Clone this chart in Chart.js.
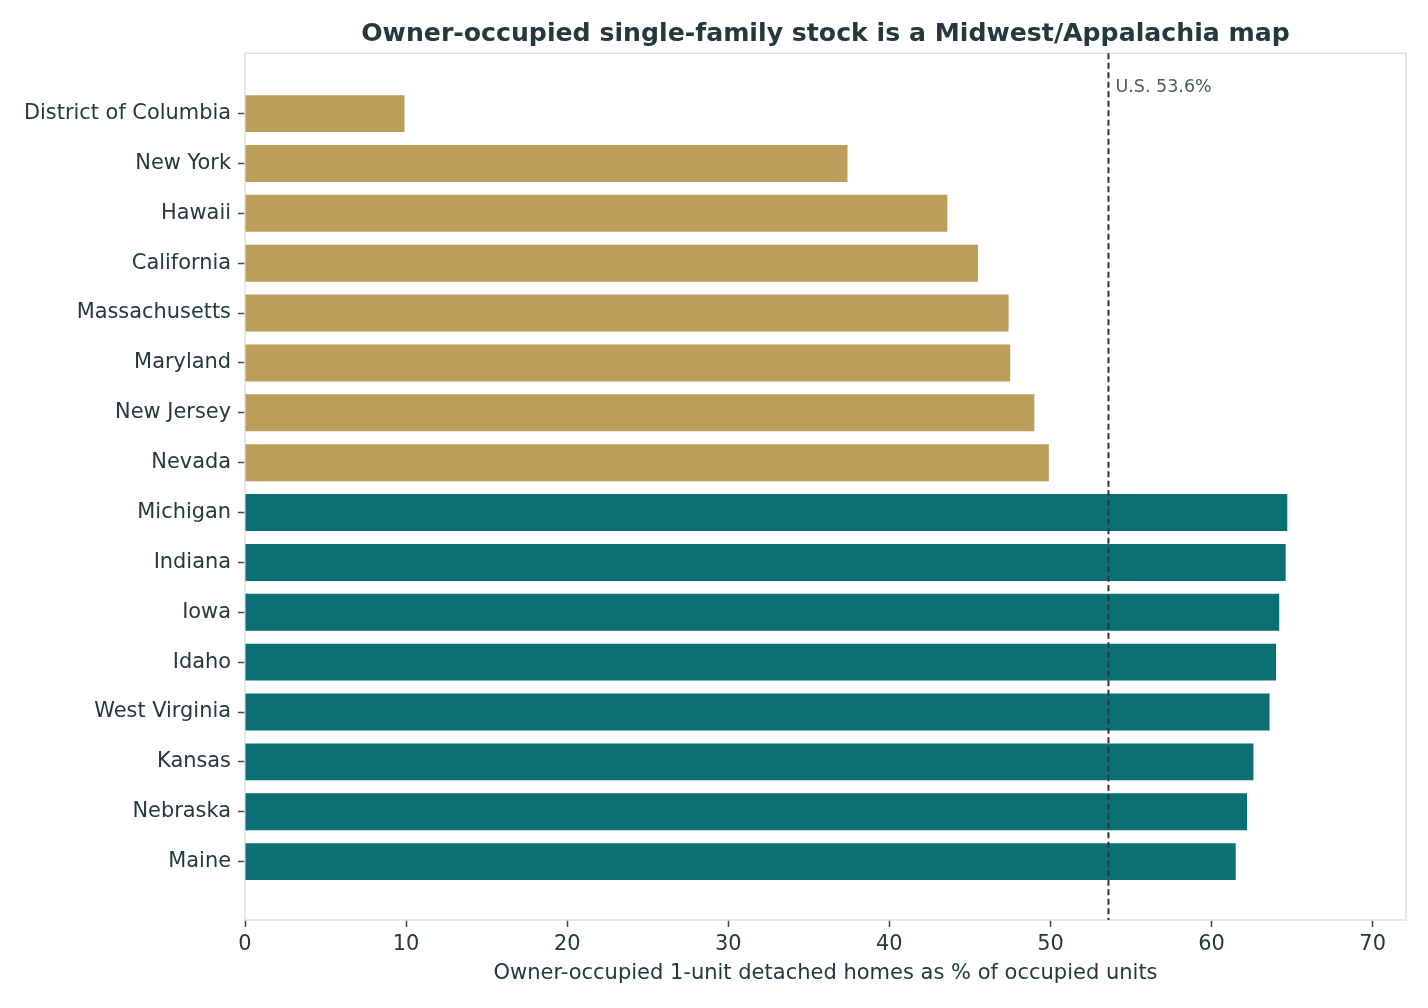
<!DOCTYPE html>
<html>
<head>
<meta charset="utf-8">
<script src="https://cdn.jsdelivr.net/npm/chart.js@4/dist/chart.umd.min.js"></script>
<style>
	html, body { margin: 0; padding: 0; background: #fff; }
	#wrap { width: 1428px; height: 1008px; }
</style>
</head>
<body>
<div id="wrap"><canvas id="chart"></canvas></div>
<script>
const STATES = [
	'District of Columbia', 'New York', 'Hawaii', 'California', 'Massachusetts',
	'Maryland', 'New Jersey', 'Nevada', 'Michigan', 'Indiana', 'Iowa', 'Idaho',
	'West Virginia', 'Kansas', 'Nebraska', 'Maine',
];
const SHARE = [
	9.9, 37.4, 43.6, 45.5, 47.4, 47.5, 49.0, 49.9,
	64.7, 64.6, 64.2, 64.0, 63.6, 62.6, 62.2, 61.5,
];
const US_AVG = 53.6;
const X_TICKS = [0, 10, 20, 30, 40, 50, 60, 70];

const TEXT = '#24393e';
const GOLD = '#bd9d5a';
const TEAL = '#0a7073';
const SPINE = '#dce3e2';

// light frame round the plot area
const framePlugin = {
	id: 'frame',
	beforeDatasetsDraw(chart) {
		const { ctx, chartArea: a } = chart;
		ctx.save();
		ctx.strokeStyle = SPINE;
		ctx.lineWidth = 1.5;
		ctx.strokeRect(a.left, a.top, a.right - a.left, a.bottom - a.top);
		ctx.restore();
	},
};

// dashed U.S. reference line and its label
const usLine = {
	id: 'usLine',
	afterDatasetsDraw(chart) {
		const { ctx, chartArea: a } = chart;
		const x = chart.scales.x.getPixelForValue(US_AVG);
		ctx.save();
		ctx.strokeStyle = TEXT;
		ctx.lineWidth = 2;
		ctx.setLineDash([6, 3.5]);
		ctx.beginPath();
		ctx.moveTo(x, a.top);
		ctx.lineTo(x, a.bottom);
		ctx.stroke();
		ctx.setLineDash([]);
		ctx.fillStyle = '#4a5a5e';
		ctx.font = '17.5px "DejaVu Sans"';
		ctx.textBaseline = 'middle';
		ctx.fillText('U.S. ' + US_AVG.toFixed(1) + '%', x + 7, a.top + 34);
		ctx.restore();
	},
};

new Chart(document.getElementById('chart'), {
	type: 'bar',
	data: {
		datasets: [{
			data: SHARE.map((v, i) => ({ x: v, y: i })),
			backgroundColor: SHARE.map((v) => (v < US_AVG ? GOLD : TEAL)),
			categoryPercentage: 1,
			barPercentage: 0.74,
		}],
	},
	options: {
		indexAxis: 'y',
		responsive: true,
		maintainAspectRatio: false,
		animation: false,
		layout: { padding: { left: 0, right: 22, top: 0, bottom: 0 } },
		plugins: {
			legend: { display: false },
			tooltip: { enabled: false },
			title: {
				display: true,
				fullSize: false,
				text: 'Owner-occupied single-family stock is a Midwest/Appalachia map',
				color: TEXT,
				font: { family: 'DejaVu Sans', size: 25.2, weight: 'bold', lineHeight: 1.2 },
				padding: { top: 19, bottom: 4 },
			},
		},
		scales: {
			x: {
				type: 'linear',
				min: 0,
				max: 72.07,
				grid: { drawOnChartArea: false, drawTicks: true, tickLength: 7, tickColor: '#3b4b4f', tickWidth: 1.5 },
				border: { display: false },
				afterBuildTicks: (s) => { s.ticks = X_TICKS.map((v) => ({ value: v })); },
				afterFit: (s) => { s.height = 88; },
				ticks: {
					color: TEXT,
					padding: 5,
					maxRotation: 0,
					font: { family: 'DejaVu Sans', size: 20.9 },
				},
				title: {
					display: true,
					text: 'Owner-occupied 1-unit detached homes as % of occupied units',
					color: TEXT,
					font: { family: 'DejaVu Sans', size: 21, lineHeight: 1.2 },
					padding: { top: 0, bottom: 22 },
				},
			},
			y: {
				type: 'linear',
				reverse: true,
				offset: false,
				min: -1.21,
				max: 16.17,
				grid: { offset: false, drawOnChartArea: false, drawTicks: true, tickLength: 7, tickColor: '#3b4b4f', tickWidth: 1.5 },
				border: { display: false },
				afterBuildTicks: (s) => { s.ticks = STATES.map((_, i) => ({ value: i })); },
				afterFit: (s) => { s.width = 245; },
				ticks: {
					color: TEXT,
					padding: 7,
					autoSkip: false,
					font: { family: 'DejaVu Sans', size: 20.9 },
					callback: (v) => STATES[v],
				},
			},
		},
	},
	plugins: [framePlugin, usLine],
});
</script>
</body>
</html>
